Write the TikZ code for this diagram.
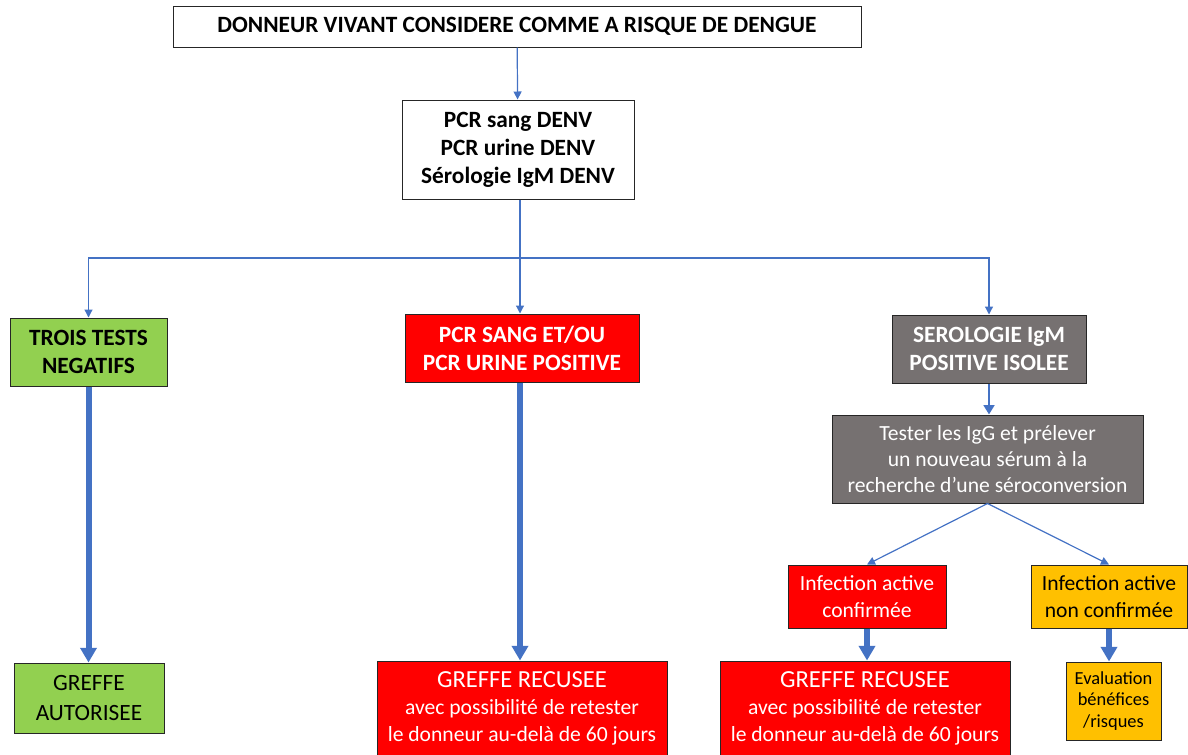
\documentclass[tikz,border=0pt]{standalone}
\usepackage{fontspec}
\setmainfont{Carlito}
\usetikzlibrary{arrows.meta}
\definecolor{linkblue}{RGB}{68, 114, 196}
\definecolor{okgreen}{RGB}{146, 208, 80}
\definecolor{refusred}{RGB}{255, 0, 0}
\definecolor{serogray}{RGB}{118, 113, 113}
\definecolor{doubtorange}{RGB}{255, 192, 0}
\begin{document}
\begin{tikzpicture}[x=0.75pt, y=-0.75pt,
        every node/.style={draw=black!85, line width=0.75pt, inner sep=0pt, align=center, font=\fontsize{17.5}{21}\selectfont},
        smalltext/.style={font=\fontsize{16.2}{20}\selectfont},
        thinlink/.style={draw=linkblue, line width=0.9pt, -{Triangle[width=6pt, length=6pt]}},
        midlink/.style={draw=linkblue, line width=2.2pt, -{Triangle[width=8pt, length=7pt]}},
        thicklink/.style={draw=linkblue, line width=4.5pt, -{Triangle[width=12pt, length=11pt]}}
      ]
        \useasboundingbox (0,0) rectangle (1188,754);
        % top and tests
        \node[fill=white, minimum width=516pt, minimum height=30.75pt] (donor) at (517,26.5) {\textbf{DONNEUR VIVANT CONSIDERE COMME A RISQUE DE DENGUE}};
        \node[fill=white, minimum width=174pt, minimum height=74.25pt] (tests) at (518,149.5) {\textbf{PCR sang DENV}\\\textbf{PCR urine DENV}\\\textbf{Sérologie IgM DENV}};
        % three outcomes
        \node[fill=okgreen, minimum width=117.75pt, minimum height=51pt] (negative) at (88.5,352) {\textbf{TROIS TESTS}\\\textbf{NEGATIFS}};
        \node[fill=refusred, text=white, minimum width=175.5pt, minimum height=51pt] (pcrpositive) at (522,348) {\textbf{PCR SANG ET/OU}\\\textbf{PCR URINE POSITIVE}};
        \node[fill=serogray, text=white, minimum width=145.5pt, minimum height=51pt] (igmonly) at (989,349) {\textbf{SEROLOGIE IgM}\\\textbf{POSITIVE ISOLEE}};
        \node[fill=serogray, text=white, smalltext, font=\fontsize{16.2}{19.5}\selectfont, minimum width=233.25pt, minimum height=66pt] (igg) at (987.5,459) {Tester les IgG et prélever\\un nouveau sérum à la\\recherche d’une séroconversion};
        \node[fill=refusred, text=white, smalltext, minimum width=118.5pt, minimum height=47.25pt] (confirmed) at (867,596.5) {Infection active\\confirmée};
        \node[fill=doubtorange, smalltext, minimum width=117pt, minimum height=47.25pt] (unconfirmed) at (1109,596.5) {Infection active\\non confirmée};
        % decisions
        \node[fill=okgreen, font=\fontsize{17.5}{22}\selectfont, minimum width=112.5pt, minimum height=52.5pt] (allowed) at (89,698) {GREFFE\\AUTORISEE};
        \node[fill=refusred, text=white, smalltext, minimum width=217.5pt, minimum height=71.25pt] (refusedmid) at (522,708.5) {{\fontsize{18.4}{20}\selectfont GREFFE RECUSEE}\\avec possibilité de retester\\le donneur au-delà de 60 jours};
        \node[fill=refusred, text=white, smalltext, minimum width=217.5pt, minimum height=71.25pt] (refusedright) at (865,708.5) {{\fontsize{18.4}{20}\selectfont GREFFE RECUSEE}\\avec possibilité de retester\\le donneur au-delà de 60 jours};
        \node[fill=doubtorange, font=\fontsize{13.8}{16}\selectfont, minimum width=71.25pt, minimum height=58.5pt] (balance) at (1113.5,701) {Evaluation\\bénéfices\\/risques};
        % connectors
        \coordinate (fork) at (520,258);
        \draw[thinlink] (donor) -- (tests);
        \draw[draw=linkblue, line width=0.9pt] (tests.south -| fork) -- (fork);
        \draw[thinlink] (fork) -| (negative.north);
        \draw[thinlink] (fork) -- (fork |- pcrpositive.north);
        \draw[thinlink] (fork) -| (igmonly.north);
        \draw[thicklink] (negative.south) -- (negative.south |- allowed.north);
        \draw[thicklink] (fork |- pcrpositive.south) -- (fork |- refusedmid.north);
        \draw[midlink] (igmonly.south) -- (igmonly.south |- igg.north);
        \draw[thinlink] (igg.south) -- (confirmed.north);
        \draw[thinlink] (igg.south) -- (unconfirmed.north);
        \draw[thicklink] (confirmed.south) -- (confirmed.south |- refusedright.north);
        \draw[thicklink] (unconfirmed.south) -- (unconfirmed.south |- balance.north);
      \end{tikzpicture}
\end{document}
